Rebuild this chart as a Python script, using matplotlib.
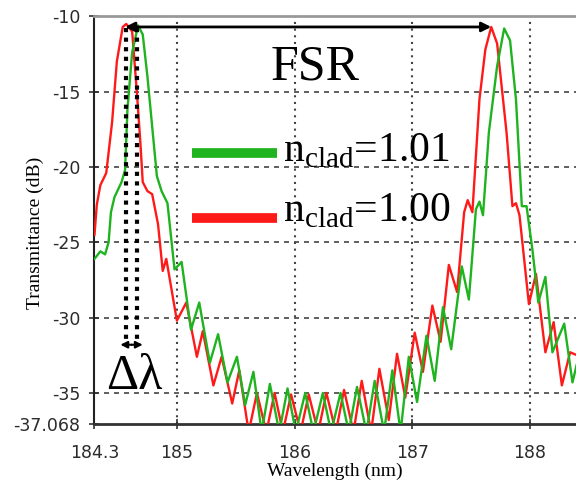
import numpy as np
import matplotlib.pyplot as plt

plt.rcParams['axes.unicode_minus'] = False
plt.rcParams['mathtext.fontset'] = 'custom'
plt.rcParams['mathtext.rm'] = 'Liberation Serif'

# n_clad = 1.00 (red)
red_wl = [184.30, 184.32, 184.35, 184.40, 184.45, 184.49, 184.54, 184.57, 184.62, 184.66,
          184.69, 184.71, 184.75, 184.79, 184.84, 184.88, 184.91, 185.00, 185.08, 185.17,
          185.22, 185.31, 185.38, 185.47, 185.53, 185.61, 185.68, 185.76, 185.83, 185.90,
          185.97, 186.05, 186.12, 186.20, 186.27, 186.35, 186.42, 186.50, 186.57, 186.65,
          186.72, 186.80, 186.87, 186.94, 187.02, 187.09, 187.17, 187.24, 187.31, 187.38,
          187.44, 187.47, 187.51, 187.57, 187.62, 187.67, 187.72, 187.80, 187.85, 187.88,
          187.91, 187.99, 188.05, 188.13, 188.20, 188.27, 188.34, 188.40]
red_db = [-24.5, -22.5, -21.2, -20.4, -17.0, -13.0, -10.7, -10.5, -11.0, -15.0,
          -18.4, -21.0, -21.6, -21.8, -23.8, -26.9, -26.1, -30.2, -29.0, -32.6,
          -30.9, -34.5, -32.6, -35.7, -33.5, -37.6, -35.0, -37.6, -35.0, -37.6,
          -35.1, -37.6, -35.1, -37.6, -35.0, -37.6, -34.8, -37.6, -34.2, -37.6,
          -33.4, -36.8, -32.4, -35.3, -31.0, -33.6, -29.2, -31.6, -26.5, -28.3,
          -23.0, -22.2, -23.0, -15.5, -12.2, -10.7, -11.8, -17.7, -22.6, -22.4,
          -23.2, -29.1, -27.1, -32.3, -30.3, -34.5, -32.3, -32.5]

# n_clad = 1.01 (green)
green_wl = [184.30, 184.35, 184.39, 184.42, 184.44, 184.47, 184.53, 184.56, 184.58, 184.62,
            184.67, 184.71, 184.75, 184.79, 184.83, 184.87, 184.92, 184.98, 185.04, 185.12,
            185.19, 185.28, 185.35, 185.43, 185.51, 185.58, 185.65, 185.72, 185.79, 185.87,
            185.94, 186.01, 186.09, 186.16, 186.24, 186.31, 186.39, 186.46, 186.53, 186.61,
            186.68, 186.76, 186.83, 186.90, 186.97, 187.04, 187.12, 187.19, 187.26, 187.33,
            187.42, 187.48, 187.54, 187.57, 187.60, 187.65, 187.72, 187.78, 187.83, 187.88,
            187.93, 187.97, 188.02, 188.07, 188.13, 188.19, 188.29, 188.36, 188.40]
green_db = [-26.1, -25.6, -25.8, -25.0, -23.0, -22.0, -21.0, -20.2, -16.2, -12.4,
            -10.6, -11.2, -14.0, -17.3, -20.6, -21.6, -22.4, -26.8, -26.3, -30.8,
            -29.0, -33.0, -31.1, -34.3, -32.6, -35.8, -33.6, -37.6, -34.4, -37.6,
            -34.7, -37.6, -35.0, -37.6, -35.0, -37.6, -35.0, -37.6, -34.6, -37.6,
            -34.2, -37.6, -33.5, -37.6, -32.6, -35.6, -31.2, -34.2, -29.3, -32.1,
            -26.6, -28.8, -22.8, -22.3, -23.2, -17.7, -13.3, -10.8, -11.6, -15.5,
            -22.6, -22.6, -25.5, -29.0, -27.3, -32.3, -30.4, -34.3, -33.0]

x_ticks = [184.3, 185, 186, 187, 188]
x_labels = ['184.3', '185', '186', '187', '188']
y_ticks = [-37.068, -35, -30, -25, -20, -15, -10]
y_labels = ['-37.068', '-35', '-30', '-25', '-20', '-15', '-10']

serif = 'Liberation Serif'
tick_color = '#2b2b2b'

fig = plt.figure(figsize=(5.76, 4.83), dpi=100)
ax = fig.add_axes([0.164, 0.122, 0.836, 0.844])

ax.plot(red_wl, red_db, color='#ff1a1a', lw=1.7, zorder=3)
ax.plot(green_wl, green_db, color='#1fb31f', lw=1.7, zorder=3)

ax.set_xlim(184.3, 188.39)
ax.set_ylim(-37.068, -10)
ax.set_xticks(x_ticks)
ax.set_xticklabels(x_labels)
ax.set_yticks(y_ticks)
ax.set_yticklabels(y_labels)
ax.tick_params(direction='inout', length=7, width=1.2, labelsize=12.5,
               labelcolor=tick_color, color='#333333')
ax.tick_params(axis='y', pad=6.5)
ax.tick_params(axis='x', pad=11)

# grid: dotted verticals, dashed horizontals
for xv in x_ticks[1:]:
    ax.axvline(xv, color='#444444', ls=(0, (1, 2.2)), lw=1.5, zorder=1)
for yv in y_ticks[1:-1]:
    ax.axhline(yv, color='#444444', ls=(0, (3, 3)), lw=1.2, zorder=1)

ax.spines['right'].set_visible(False)
ax.spines['top'].set_color('#999999')
ax.spines['top'].set_linewidth(2)
ax.spines['left'].set_color('#222222')
ax.spines['left'].set_linewidth(1.5)
ax.spines['bottom'].set_color('#333333')
ax.spines['bottom'].set_linewidth(2)

ax.set_xlabel('Wavelength (nm)', fontname=serif, fontsize=14, labelpad=0)
ax.set_ylabel('Transmittance (dB)', fontname=serif, fontsize=14)
ax.yaxis.set_label_coords(-0.105, 0.47)

# FSR arrow
ax.annotate('', xy=(187.67, -10.7), xytext=(184.56, -10.7),
            arrowprops=dict(arrowstyle='<|-|>', color='black', lw=2,
                            mutation_scale=14, shrinkA=0, shrinkB=0), zorder=5)
ax.text(186.17, -13.4, 'FSR', fontname=serif, fontsize=36, ha='center', va='center')

# delta lambda markers
for xv in [184.565, 184.665]:
    ax.plot([xv, xv], [-10.8, -31.8], color='black', ls=(0, (1, 1.3)), lw=3, zorder=4)
ax.annotate('', xy=(184.52, -31.8), xytext=(184.615, -31.8),
            arrowprops=dict(arrowstyle='-|>', color='black', lw=1.5,
                            mutation_scale=10, shrinkA=0, shrinkB=0), zorder=5)
ax.annotate('', xy=(184.71, -31.8), xytext=(184.615, -31.8),
            arrowprops=dict(arrowstyle='-|>', color='black', lw=1.5,
                            mutation_scale=10, shrinkA=0, shrinkB=0), zorder=5)
ax.text(184.64, -33.9, 'Δλ', fontname=serif, fontsize=36, ha='center', va='center')

# legend drawn by hand
ax.plot([185.13, 185.85], [-19.1, -19.1], color='#1fb31f', lw=7, solid_capstyle='butt')
ax.plot([185.13, 185.85], [-23.4, -23.4], color='#ff1a1a', lw=7, solid_capstyle='butt')
ax.text(185.9, -18.9, r'n$_{\rm clad}$=1.01', fontname=serif, fontsize=30,
        ha='left', va='center')
ax.text(185.9, -22.9, r'n$_{\rm clad}$=1.00', fontname=serif, fontsize=30,
        ha='left', va='center')

fig.savefig('out.png', dpi=100)
